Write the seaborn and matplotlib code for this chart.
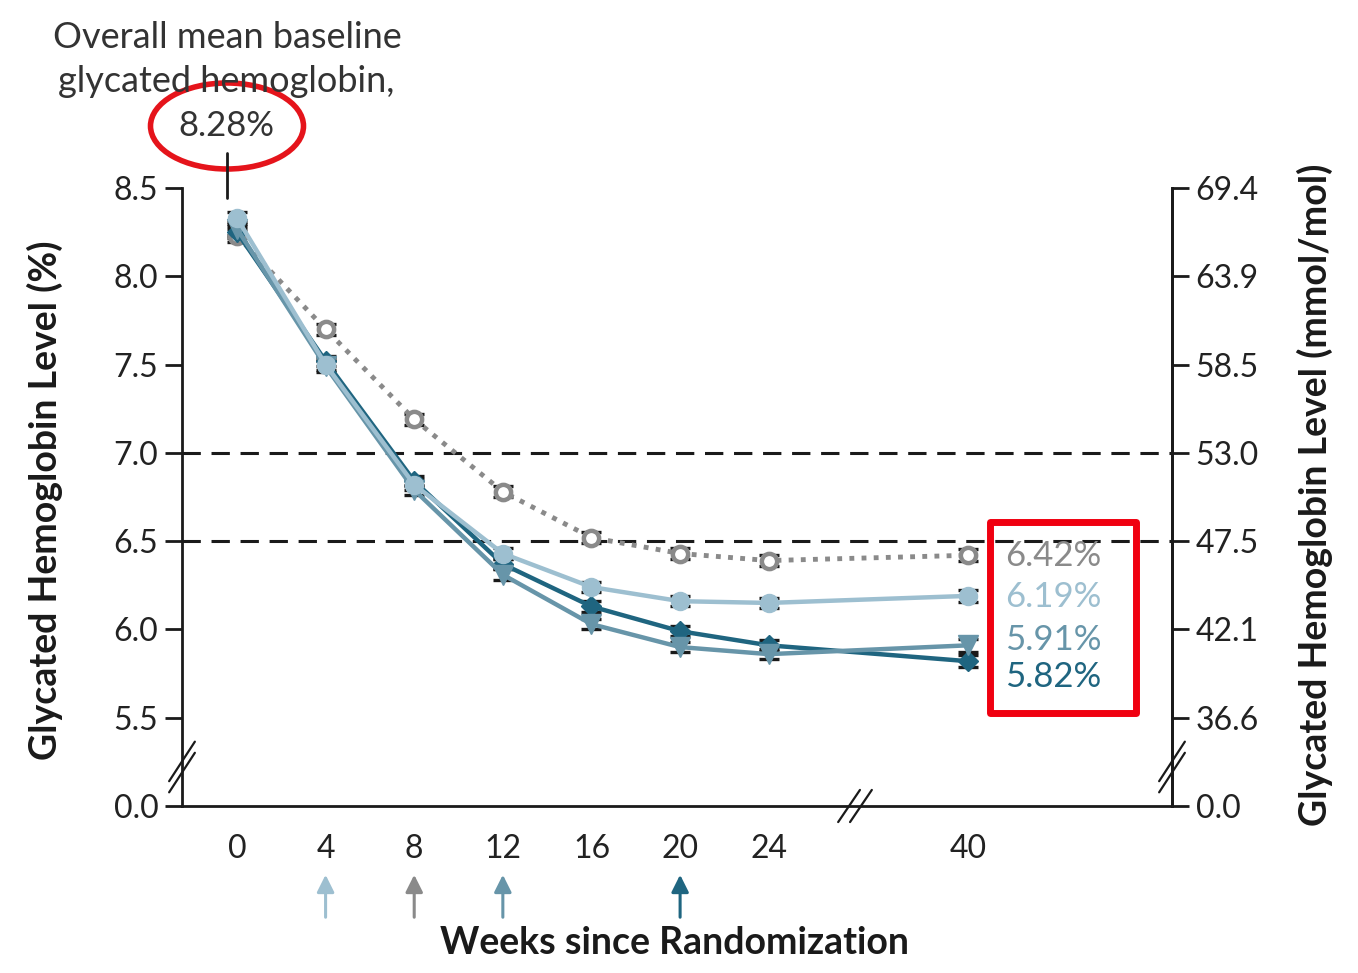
import numpy as np
import pandas as pd
import matplotlib
matplotlib.use("Agg")
import matplotlib.pyplot as plt
import matplotlib.transforms as mtransforms
from matplotlib.patches import Ellipse, Rectangle
import seaborn as sns

# data (week 40 is drawn at position 33 because of the axis break)
weeks = [0, 4, 8, 12, 16, 20, 24, 40]
week_pos = [0, 4, 8, 12, 16, 20, 24, 33]
gray_vals = [8.23, 7.70, 7.19, 6.78, 6.52, 6.43, 6.39, 6.42]
light_vals = [8.33, 7.50, 6.82, 6.43, 6.24, 6.16, 6.15, 6.19]
dark_vals = [8.25, 7.52, 6.84, 6.37, 6.13, 5.99, 5.91, 5.82]
mid_vals = [8.27, 7.49, 6.79, 6.31, 6.03, 5.90, 5.86, 5.91]
err = [0.035, 0.03, 0.03, 0.03, 0.03, 0.03, 0.03, 0.035]
end_labels = ["6.42%", "6.19%", "5.91%", "5.82%"]
left_ticks = [5.0, 5.5, 6.0, 6.5, 7.0, 7.5, 8.0, 8.5]
left_labels = ["0.0", "5.5", "6.0", "6.5", "7.0", "7.5", "8.0", "8.5"]
right_labels = ["0.0", "36.6", "42.1", "47.5", "53.0", "58.5", "63.9", "69.4"]
arrow_weeks = [4, 8, 12, 20]

c_gray = "#8a8a8a"
c_light = "#9dbfd0"
c_mid = "#6795a9"
c_dark = "#1f6580"
arrow_cols = [c_light, c_gray, c_mid, c_dark]
ink = "#1a1a1a"

sns.set_style("white")
plt.rcParams['font.family'] = ['Lato', 'DejaVu Sans']

fig = plt.figure(figsize=(13.58, 9.73), dpi=100)
ax = fig.add_axes([182/1358, 1-806/973, 990/1358, 618/973])
ax.set_xlim(-2.48, 42.2)
ax.set_ylim(5.0, 8.5)

# reference lines
for yv in [7.0, 6.5]:
    ax.plot([-2.48, 42.2], [yv, yv], color=ink, lw=2.2, linestyle=(0, (6, 3.5)), zorder=1)

series = [
    (gray_vals, c_gray, 'o', (0, (1, 1.5)), 11),
    (dark_vals, c_dark, 'D', '-', 10),
    (mid_vals, c_mid, 'v', '-', 14),
    (light_vals, c_light, 'o', '-', 13),
]
for vals, col, mk, ls, ms in series:
    ax.errorbar(week_pos, vals, yerr=err, fmt='none', ecolor=ink, elinewidth=1.5,
                capsize=7, capthick=2.4, zorder=2)
    df = pd.DataFrame({"week": week_pos, "val": vals})
    if col == c_gray:
        sns.lineplot(data=df, x="week", y="val", ax=ax, color=col, lw=3.5, linestyle=ls,
                     marker=mk, markersize=ms, markerfacecolor="white",
                     markeredgecolor=col, markeredgewidth=3.2, zorder=3)
    else:
        sns.lineplot(data=df, x="week", y="val", ax=ax, color=col, lw=3.2, linestyle=ls,
                     marker=mk, markersize=ms, markerfacecolor=col,
                     markeredgecolor=col, markeredgewidth=1, zorder=4)

# axes styling
ax.spines["top"].set_visible(False)
for s in ["left", "bottom", "right"]:
    ax.spines[s].set_linewidth(2)
    ax.spines[s].set_color(ink)
ax.set_xticks(week_pos)
ax.set_xticklabels([str(w) for w in weeks])
ax.set_yticks(left_ticks)
ax.set_yticklabels(left_labels)
ax.tick_params(axis='x', direction='out', length=12, width=2, color=ink, pad=8,
               labelsize=23, labelcolor="#222")
ax.tick_params(axis='y', direction='out', length=12, width=2, color=ink, pad=5,
               labelsize=23, labelcolor="#222", left=True)
ax.set_xlabel("")
ax.set_ylabel("")

ax2 = ax.twinx()
ax2.set_ylim(5.0, 8.5)
ax2.set_yticks(left_ticks)
ax2.set_yticklabels(right_labels)
for s in ["top", "left", "bottom"]:
    ax2.spines[s].set_visible(False)
ax2.spines["right"].set_linewidth(2)
ax2.spines["right"].set_color(ink)
ax2.tick_params(axis='y', direction='out', length=12, width=2, color=ink, pad=5,
                labelsize=23, labelcolor="#222", right=True)
ax2.grid(False)
ax.grid(False)

# axis break marks
def slash(axis, x0, y0, dx, dy, gap, horiz):
    for k in (-1, 1):
        ox, oy = (k * gap, 0) if horiz else (0, k * gap)
        axis.plot([x0 - dx + ox, x0 + dx + ox], [y0 - dy + oy, y0 + dy + oy],
                  transform=axis.transAxes, color=ink, lw=1.6, clip_on=False, zorder=6)

yb = (806 - 767) / 618
slash(ax, 0.0, yb, 0.013, 0.032, 0.009, False)
slash(ax, 1.0, yb, 0.013, 0.032, 0.009, False)
slash(ax, (855 - 182) / 990, 0.0, 0.011, 0.026, 0.006, True)

# arrows below x axis
blend = mtransforms.blended_transform_factory(ax.transData, ax.transAxes)
for w, col in zip(arrow_weeks, arrow_cols):
    ax.annotate("", xy=(w, (806 - 872) / 618), xytext=(w, (806 - 920) / 618),
                xycoords=blend, textcoords=blend,
                arrowprops=dict(arrowstyle='-|>', color=col, lw=2.2, mutation_scale=26))

# labels
fig.text(675/1358, 1 - 943/973, "Weeks since Randomization", ha='center', va='center',
         fontsize=27, fontweight='bold', color=ink)
fig.text(45/1358, 1 - 500/973, "Glycated Hemoglobin Level (%)", rotation=90,
         ha='center', va='center', fontsize=27, fontweight='bold', color=ink)
fig.text(1315/1358, 1 - 495/973, "Glycated Hemoglobin Level (mmol/mol)", rotation=90,
         ha='center', va='center', fontsize=27, fontweight='bold', color=ink)

# baseline annotation
fig.text(227/1358, 1 - 38/973, "Overall mean baseline", ha='center', va='center',
         fontsize=26, color="#333")
fig.text(226/1358, 1 - 82/973, "glycated hemoglobin,", ha='center', va='center',
         fontsize=26, color="#333")
fig.text(226/1358, 1 - 126/973, "8.28%", ha='center', va='center', fontsize=25, color="#333")
fig.add_artist(Ellipse((227/1358, 1 - 126/973), 153/1358, 86/973, transform=fig.transFigure,
                       fill=False, edgecolor="#e5141b", lw=4))
fig.add_artist(plt.Line2D([227/1358, 227/1358], [1 - 153/973, 1 - 198/973],
                          transform=fig.transFigure, color=ink, lw=2))

# end-of-study values
for lab, col, yp in zip(end_labels, [c_gray, c_light, c_mid, c_dark], [556, 597, 640, 677]):
    fig.text(1053/1358, 1 - yp/973, lab, ha='center', va='center', fontsize=25, color=col)
fig.add_artist(Rectangle((990/1358, 1 - 713/973), 146/1358, 191/973, transform=fig.transFigure,
                         fill=False, edgecolor="#f00010", lw=5, joinstyle='round'))

fig.savefig("out.png", dpi=100)
